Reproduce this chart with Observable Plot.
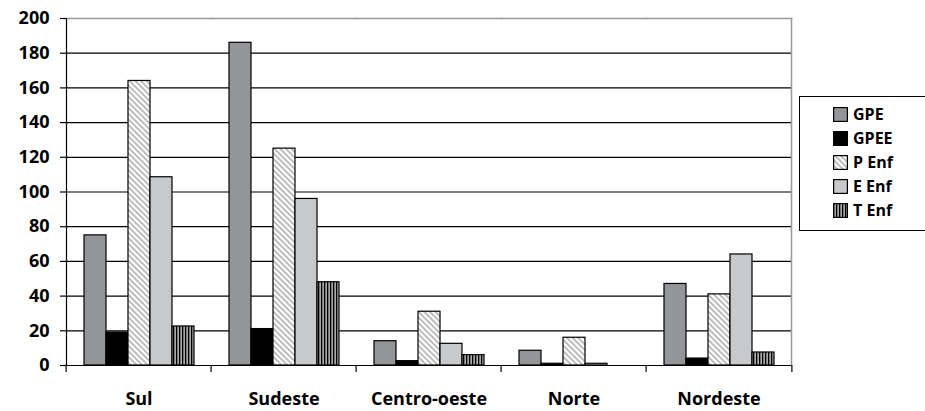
<!DOCTYPE html>
<html><head><meta charset="utf-8">
<script src="https://cdn.jsdelivr.net/npm/d3@7"></script>
<script src="https://cdn.jsdelivr.net/npm/@observablehq/plot@0.6"></script>
<style>
body{margin:0;background:#fff;font-family:"Open Sans",sans-serif;}
#wrap{position:relative;width:925px;height:411px;overflow:hidden;}
#legend{position:absolute;left:799px;top:96px;width:140px;height:135px;border:1px solid #000;box-sizing:border-box;background:#fff;padding-top:5px;}
.row{display:flex;align-items:center;height:24px;padding-left:33px;font-weight:700;font-size:16px;color:#000;font-family:"Open Sans",sans-serif;}
.row svg{margin-right:5px;}
svg text{font-weight:700;}
</style></head><body>
<svg width="0" height="0" style="position:absolute">
<defs>
<pattern id="hatch" patternUnits="userSpaceOnUse" width="4" height="4" patternTransform="rotate(-45)">
<rect width="4" height="4" fill="#ffffff"/>
<rect width="2" height="4" fill="#bdbdbd"/>
</pattern>
<pattern id="vstripe" patternUnits="userSpaceOnUse" width="3" height="3">
<rect width="3" height="3" fill="#a9a9a9"/>
<rect width="1.3" height="3" fill="#000000"/>
</pattern>
</defs>
</svg>
<div id="wrap"></div>
<script>
const categories = ["Sul","Sudeste","Centro-oeste","Norte","Nordeste"];
const series = ["GPE","GPEE","P Enf","E Enf","T Enf"];
const GPE  = [75, 186, 14, 8.5, 47];
const GPEE = [19, 21, 2.5, 1, 4];
const PEnf = [164, 125, 31, 16, 41];
const EEnf = [108.5, 96, 12.5, 1, 64];
const TEnf = [22.5, 48, 6, 0, 7.5];
const yTicks = [0,20,40,60,80,100,120,140,160,180,200];
const fills = ["#939598","#000000","url(#hatch)","#c8c9cb","url(#vstripe)"];

const valuesBySeries = [GPE, GPEE, PEnf, EEnf, TEnf];
const data = [];
categories.forEach((c, i) => series.forEach((s, j) => data.push({region: c, series: s, value: valuesBySeries[j][i]})));

const W = 925, H = 411, mL = 64, mR = 132, mT = 18, mB = 46;
const step = (W - mL - mR) / categories.length;

const chart = Plot.plot({
  width: W, height: H,
  marginLeft: mL, marginRight: mR, marginTop: mT, marginBottom: mB,
  style: {fontFamily: "'Open Sans', sans-serif", fontWeight: "700", fontSize: "18px", color: "#000", background: "#fff", overflow: "visible"},
  fx: {domain: categories, padding: 0, axis: null, label: null},
  x: {domain: series, paddingInner: 0, paddingOuter: 0.74, axis: null},
  y: {domain: [0, 200], axis: null},
  color: {domain: series, range: fills, type: "ordinal"},
  marks: [
    Plot.gridY(yTicks.slice(1, -1), {stroke: "#000", strokeOpacity: 1, strokeWidth: 1.2}),
    Plot.frame({anchor: "top", stroke: "#999", strokeWidth: 1.5}),
    Plot.frame({anchor: "right", facetAnchor: "right", stroke: "#999", strokeWidth: 1.5}),
    Plot.barY(data, {fx: "region", x: "series", y: "value", fill: "series", stroke: "#000", strokeWidth: 1.2}),
    Plot.ruleY([0], {stroke: "#000", strokeWidth: 1.2}),
    Plot.frame({anchor: "left", facetAnchor: "left", stroke: "#000", strokeWidth: 1.2}),
    Plot.axisY({ticks: yTicks, tickSize: 6, tickPadding: 11, fontSize: 18, label: null, stroke: "#000", strokeWidth: 1.2}),
    Plot.axisFx({anchor: "bottom", tickSize: 0, tickPadding: 27, fontSize: 18, label: null}),
    Plot.axisFx({anchor: "bottom", tickSize: 7, text: null, label: null, dx: -step / 2, stroke: "#000", strokeWidth: 1.2}),
    Plot.axisFx({anchor: "bottom", ticks: categories.slice(-1), tickSize: 7, text: null, label: null, dx: step / 2, stroke: "#000", strokeWidth: 1.2})
  ]
});
const wrap = document.getElementById("wrap");
wrap.appendChild(chart);

const legend = document.createElement("div");
legend.id = "legend";
series.forEach((s, j) => {
  const row = document.createElement("div");
  row.className = "row";
  row.innerHTML = `<svg width="15" height="15"><rect x="0.6" y="0.6" width="13.8" height="13.8" fill="${fills[j]}" stroke="#000" stroke-width="1.2"/></svg><span>${s}</span>`;
  legend.appendChild(row);
});
wrap.appendChild(legend);
</script>
</body></html>
